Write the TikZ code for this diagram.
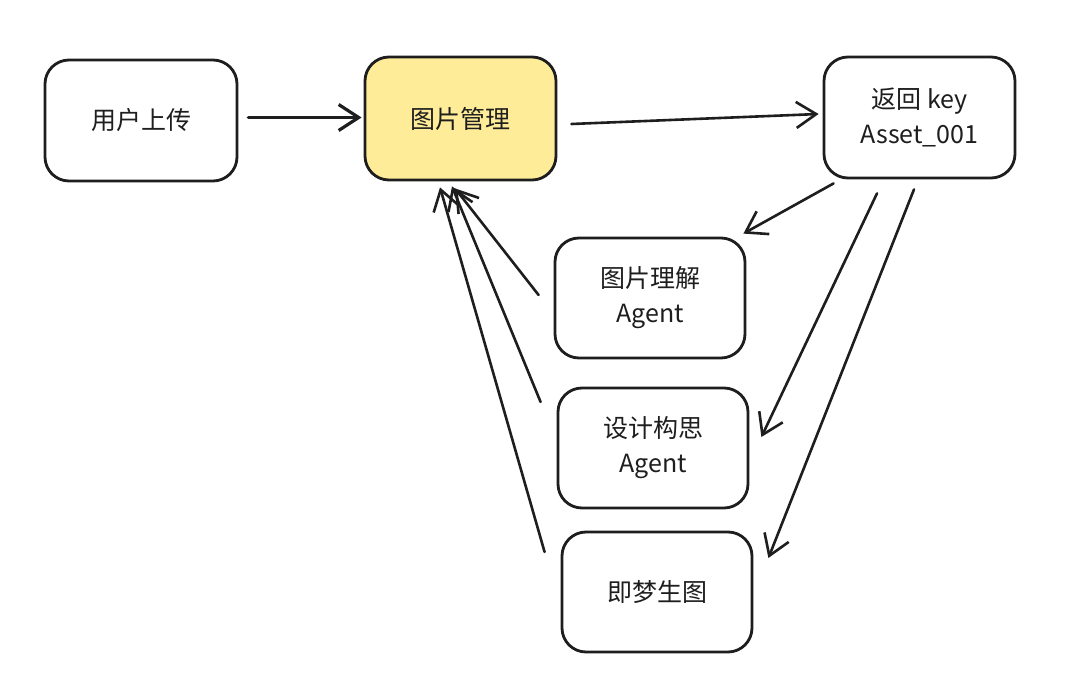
\documentclass[tikz,border=0pt]{standalone}
\usepackage{fontspec}
\setmainfont{Noto Sans CJK SC}
\usetikzlibrary{arrows.meta,calc}
\definecolor{ink}{HTML}{1E1E1E}
\definecolor{yel}{HTML}{FFEC99}
\tikzset{
  box/.style={draw=ink, line width=2.8pt, rounded corners=24pt, minimum width=190pt, minimum height=120pt,
     align=center, text=ink, font=\fontsize{25}{35}\selectfont, inner sep=0pt},
  arr/.style={draw=ink, line width=2.6pt, line cap=round,
     -{Straight Barb[length=20pt,width=26pt,line width=2.6pt]}},
  thick arr/.style={arr, line width=3.6pt, -{Straight Barb[length=20pt,width=26pt,line width=3.2pt]}}
}
\begin{document}
\begin{tikzpicture}[x=1pt,y=-1pt]
\useasboundingbox[fill=white] (0,0) rectangle (1080,687);
\node[box] (n1) at (141,120.5) [minimum width=192pt, minimum height=121pt] {用户上传};
\node[box, fill=yel] (n2) at (460.5,118.5) [minimum width=191pt, minimum height=123pt] {图片管理};
\node[box] (n3) at (919.5,117.5) [minimum width=191pt, minimum height=121pt] {返回 key\\Asset\_001};
\node[box] (n4) at (650,298) {图片理解\\Agent};
\node[box] (n5) at (653,448) {设计构思\\Agent};
\node[box] (n6) at (657,592) {即梦生图};

\draw[thick arr] ($(n1.east)+(10,-3)$) -- ($(n2.west)+(-2,-1)$);
\draw[arr] ($(n2.east)+(14,5.5)$) -- ($(n3.west)+(-4,-3.5)$);
\draw[arr] ($(n3.south west)+(11,4)$) -- ($(n4.north east)+(-3,-3)$);
\draw[arr] ($(n3.south)+(-42.5,14)$) -- ($(n5.east)+(12,-11)$);
\draw[arr] ($(n3.south)+(-5.5,10)$) -- ($(n6.east)+(15,-34)$);
\draw[arr] ($(n4.west)+(-15,-3)$) -- ($(n2.south)+(-5.5,7)$);
\draw[arr] ($(n5.west)+(-16,-46)$) -- ($(n2.south)+(-8.5,5)$);
\draw[arr] ($(n6.west)+(-16,-40)$) -- ($(n2.south)+(-20.5,6)$);
\end{tikzpicture}
\end{document}
